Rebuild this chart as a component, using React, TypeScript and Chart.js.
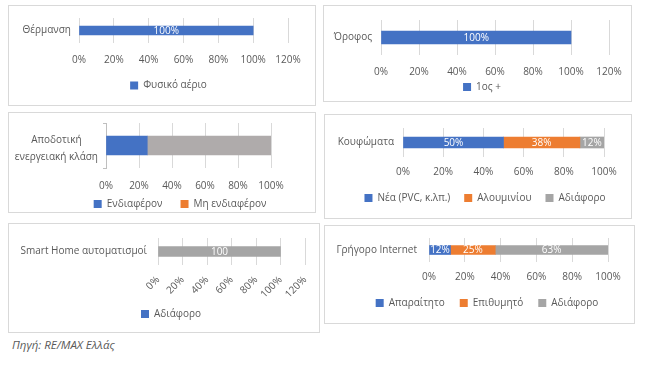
import React, { useEffect, useRef } from "react";
import { Chart, registerables } from "chart.js";
Chart.register(...registerables);

// ---------- data ----------
const heatingCategories = ["Θέρμανση"];
const heatingSeries = ["Φυσικό αέριο"];
const heatingValues = [[100]];

const floorCategories = ["Όροφος"];
const floorSeries = ["1ος +"];
const floorValues = [[100]];

const energyCategories = [["Αποδοτική", "ενεργειακή κλάση"]];
const energySeries = ["Ενδιαφέρον", "Μη ενδιαφέρον"];
const energyValues = [[25], [75]];

const frameCategories = ["Κουφώματα"];
const frameSeries = ["Νέα (PVC, κ.λπ.)", "Αλουμινίου", "Αδιάφορο"];
const frameValues = [[50], [38], [12]];

const smartCategories = ["Smart Home αυτοματισμοί"];
const smartSeries = ["Αδιάφορο"];
const smartValues = [[100]];

const internetCategories = ["Γρήγορο Internet"];
const internetSeries = ["Απαραίτητο", "Επιθυμητό", "Αδιάφορο"];
const internetValues = [[12], [25], [63]];

const sourceText = "Πηγή: RE/MAX Ελλάς";

// ---------- styles ----------
const BLUE = "#4472C4";
const ORANGE = "#ED7D31";
const GRAY = "#A5A5A5";
const WARMGRAY = "#AFABAB";
const GRID = "#D9D9D9";
const TEXT = "#595959";
const FONT = "'Open Sans', sans-serif";
const X_AXIS_H = 50;

type Panel = {
  box: [number, number, number, number]; // left, top, right, bottom (page px)
  area: [number, number, number, number]; // left, right, top, bottom (page px)
  categories: any[];
  series: string[];
  values: number[][];
  barColors: string[];
  legendColors: string[];
  max: number;
  barThickness: number;
  xTickPad: number;
  yTickPad: number;
  yLabelOffset: number;
  yLineHeight: number;
  rotation: number;
  legendCX: number;
  legendCY: number;
  legendPad: number;
  label: ((v: number) => string) | null;
  yLine: boolean;
};

const pct = (v: number) => v + "%";

const panels: Panel[] = [
  {
    box: [8, 5, 315, 105], area: [79, 288, 18, 43],
    categories: heatingCategories, series: heatingSeries, values: heatingValues,
    barColors: [BLUE], legendColors: [BLUE], max: 120, barThickness: 9,
    xTickPad: 11, yTickPad: 5, yLabelOffset: 0, yLineHeight: 1.2, rotation: 0,
    legendCX: 168.5, legendCY: 85.5, legendPad: 17,
    label: pct, yLine: false,
  },
  {
    box: [323, 5, 631, 101], area: [381, 609, 20, 55],
    categories: floorCategories, series: floorSeries, values: floorValues,
    barColors: [BLUE], legendColors: [BLUE], max: 120, barThickness: 13,
    xTickPad: 11, yTickPad: 6, yLabelOffset: 0, yLineHeight: 1.2, rotation: 0,
    legendCX: 482, legendCY: 87, legendPad: 17,
    label: pct, yLine: false,
  },
  {
    box: [8, 112, 315, 212], area: [106, 271, 123, 168],
    categories: energyCategories, series: energySeries, values: energyValues,
    barColors: [BLUE, WARMGRAY], legendColors: [BLUE, ORANGE], max: 100, barThickness: 19,
    xTickPad: 12, yTickPad: 5, yLabelOffset: 3, yLineHeight: 1.65, rotation: 0,
    legendCX: 180, legendCY: 204, legendPad: 18,
    label: null, yLine: true,
  },
  {
    box: [324, 114, 631, 218], area: [403, 604, 128, 157],
    categories: frameCategories, series: frameSeries, values: frameValues,
    barColors: [BLUE, ORANGE, GRAY], legendColors: [BLUE, ORANGE, GRAY], max: 100, barThickness: 11,
    xTickPad: 9, yTickPad: 6, yLabelOffset: 0, yLineHeight: 1.2, rotation: 0,
    legendCX: 485, legendCY: 198, legendPad: 14,
    label: pct, yLine: false,
  },
  {
    box: [8, 223, 319, 332], area: [158, 305, 238, 265],
    categories: smartCategories, series: smartSeries, values: smartValues,
    barColors: [GRAY], legendColors: [BLUE], max: 120, barThickness: 10,
    xTickPad: 9, yTickPad: 8, yLabelOffset: 0, yLineHeight: 1.2, rotation: 45,
    legendCX: 171, legendCY: 314, legendPad: 17,
    label: (v: number) => String(v), yLine: false,
  },
  {
    box: [324, 225, 634, 323], area: [429, 608, 238, 262],
    categories: internetCategories, series: internetSeries, values: internetValues,
    barColors: [BLUE, ORANGE, GRAY], legendColors: [BLUE, ORANGE, GRAY], max: 100, barThickness: 9,
    xTickPad: 9, yTickPad: 9, yLabelOffset: 0, yLineHeight: 1.2, rotation: 0,
    legendCX: 487, legendCY: 303, legendPad: 15,
    label: pct, yLine: false,
  },
];

function PanelChart({ p }: { p: Panel }) {
  const ref = useRef<HTMLCanvasElement | null>(null);
  const [bl, bt, br, bb] = p.box;
  const ox = bl + 1;
  const oy = bt + 1;
  const cw = br - bl - 1;
  const ch = bb - bt - 1;

  useEffect(() => {
    const canvas = ref.current;
    if (!canvas) return;
    const [al, ar, at, ab] = p.area;
    const leftRel = al - ox;
    const rightPad = ox + cw - ar;
    const topRel = at - oy;
    const bottomRel = ab - oy;
    const legendH = 10 + p.legendPad + 10;
    const bottomPad = ch - bottomRel - legendH - X_AXIS_H;

    const legendPlacer = {
      id: "legendPlacer",
      afterLayout(chart: any) {
        const lg = chart.legend;
        if (!lg) return;
        const w = lg.width;
        lg.left = p.legendCX - ox - w / 2;
        lg.right = p.legendCX - ox + w / 2;
        const pad = lg.options.labels.padding;
        lg.top = p.legendCY - oy - pad - 5;
        lg.bottom = lg.top + lg.height;
      },
    };

    const dataLabels = {
      id: "dataLabels",
      afterDatasetsDraw(chart: any) {
        if (!p.label) return;
        const ctx = chart.ctx;
        ctx.save();
        ctx.font = `10px ${FONT}`;
        ctx.fillStyle = "#FFFFFF";
        ctx.textAlign = "center";
        ctx.textBaseline = "middle";
        chart.data.datasets.forEach((ds: any, i: number) => {
          const meta = chart.getDatasetMeta(i);
          meta.data.forEach((el: any, j: number) => {
            const v = ds.data[j];
            if (!v) return;
            const c = el.getCenterPoint();
            ctx.fillText(p.label!(v), c.x, c.y + 0.5);
          });
        });
        ctx.restore();
      },
    };

    const chart = new Chart(canvas, {
      type: "bar",
      data: {
        labels: p.categories,
        datasets: p.series.map((name, i) => ({
          label: name,
          data: p.values[i],
          backgroundColor: p.barColors[i],
          borderWidth: 0,
          barThickness: p.barThickness,
        })),
      },
      options: {
        animation: false,
        responsive: false,
        maintainAspectRatio: false,
        indexAxis: "y",
        layout: { padding: { left: 0, right: rightPad, top: topRel, bottom: bottomPad } },
        scales: {
          x: {
            stacked: true,
            min: 0,
            max: p.max,
            ticks: {
              stepSize: 20,
              callback: (v: any) => v + "%",
              color: TEXT,
              font: { family: FONT, size: 10 },
              padding: p.xTickPad,
              minRotation: p.rotation,
              maxRotation: p.rotation,
              autoSkip: false,
            },
            grid: { color: GRID, drawTicks: false, lineWidth: 1 },
            border: { display: false },
            afterFit: (s: any) => {
              s.height = X_AXIS_H;
              s.paddingLeft = 0;
              s.paddingRight = 0;
              s.paddingTop = 0;
              s.paddingBottom = 0;
            },
          },
          y: {
            stacked: true,
            ticks: {
              color: TEXT,
              font: { family: FONT, size: 10, lineHeight: p.yLineHeight },
              padding: p.yTickPad,
              labelOffset: p.yLabelOffset,
              crossAlign: p.yLine ? "center" : "near",
            },
            grid: {
              display: p.yLine,
              drawOnChartArea: false,
              drawTicks: true,
              tickLength: 3,
              color: "#BFBFBF",
            },
            border: { display: p.yLine, color: "#BFBFBF" },
            afterFit: (s: any) => {
              s.width = leftRel;
              s.paddingLeft = 0;
              s.paddingRight = 0;
              s.paddingTop = 0;
              s.paddingBottom = 0;
            },
          },
        } as any,
        plugins: {
          legend: {
            display: true,
            position: "bottom",
            labels: {
              boxWidth: 8,
              boxHeight: 8,
              padding: p.legendPad,
              color: TEXT,
              font: { family: FONT, size: 10 },
              generateLabels: () =>
                p.series.map((name, i) => ({
                  text: name,
                  fillStyle: p.legendColors[i],
                  strokeStyle: p.legendColors[i],
                  lineWidth: 0,
                  hidden: false,
                  datasetIndex: i,
                  fontColor: TEXT,
                })),
            },
          },
          tooltip: { enabled: false },
        },
      } as any,
      plugins: [legendPlacer, dataLabels],
    });
    return () => chart.destroy();
  }, []);

  return (
    <div
      style={{
        position: "absolute",
        left: bl,
        top: bt,
        width: br - bl + 1,
        height: bb - bt + 1,
        boxSizing: "border-box",
        border: `1px solid ${GRID}`,
        background: "#FFFFFF",
      }}
    >
      <canvas
        ref={ref}
        width={cw}
        height={ch}
        style={{ position: "absolute", left: 0, top: 0, width: cw, height: ch }}
      />
    </div>
  );
}

export default function App() {
  return (
    <div
      style={{
        position: "fixed",
        left: 0,
        top: 0,
        width: 651,
        height: 367,
        background: "#FFFFFF",
        overflow: "hidden",
      }}
    >
      {panels.map((p, i) => (
        <PanelChart key={i} p={p} />
      ))}
      <div
        style={{
          position: "absolute",
          left: 12,
          top: 338,
          fontFamily: FONT,
          fontStyle: "italic",
          fontWeight: 400,
          fontSize: 11.5,
          lineHeight: "14px",
          color: "#595959",
        }}
      >
        {sourceText}
      </div>
    </div>
  );
}
